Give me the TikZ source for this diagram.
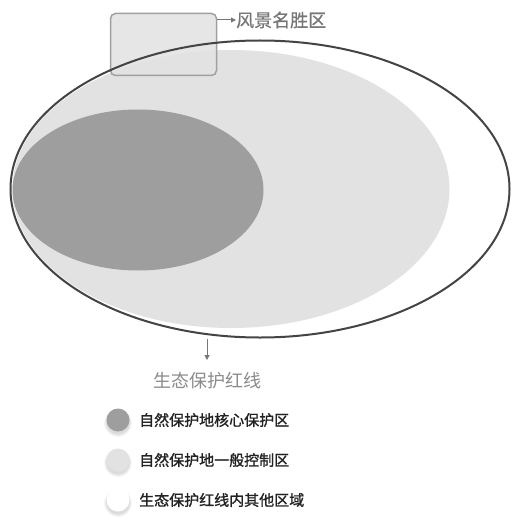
\documentclass[tikz,border=0pt]{standalone}
\usepackage{fontspec}
\setmainfont{Noto Sans CJK SC}
\newfontfamily\legfont[FakeBold=1.2]{Noto Sans CJK SC}
\newfontfamily\capfont[FakeBold=0.6]{Noto Sans CJK SC}
\usetikzlibrary{shapes.geometric,arrows.meta}
\definecolor{lightzone}{HTML}{E2E2E2}
\definecolor{darkzone}{HTML}{9E9E9E}
\definecolor{redline}{HTML}{444444}
\definecolor{rectline}{HTML}{A0A0A0}
\definecolor{labelgrey}{HTML}{777777}
\definecolor{legendtext}{HTML}{222222}
\tikzset{
  zone/.style={ellipse, inner sep=0pt, draw=none},
  ptr/.style={draw=labelgrey, line width=1pt, -{Triangle[length=5pt,width=5pt]}},
  legdot/.style={circle, inner sep=0pt, minimum size=23pt},
  dotshade/.style={circle, inner sep=0pt, fill=black, draw=none},
  legtext/.style={anchor=west, inner sep=0pt, font=\legfont\fontsize{15}{15}\selectfont, text=legendtext},
  biglabel/.style={inner sep=0pt, font=\fontsize{18}{18}\selectfont, text=labelgrey}
}
\newcommand{\softshadow}[1]{%
  \node[dotshade, minimum size=28pt, fill opacity=0.03] at ([yshift=-3pt]#1) {};
  \node[dotshade, minimum size=26pt, fill opacity=0.05] at ([yshift=-3pt]#1) {};
  \node[dotshade, minimum size=24pt, fill opacity=0.06] at ([yshift=-2.5pt]#1) {};
}
\begin{document}
\begin{tikzpicture}[x=1pt,y=-1pt]
\useasboundingbox (0,0) rectangle (511,532);
\fill[white] (0,0) rectangle (511,532);
% zones
\begin{scope}
\clip (260,189) ellipse [x radius=249pt, y radius=148pt];
\node[zone, fill=lightzone, minimum width=437pt, minimum height=278pt] (general) at (231,189) {};
\node[zone, fill=darkzone, minimum width=251pt, minimum height=161pt] (core) at (138,190) {};
\end{scope}
% scenic area box
\node[draw=rectline, line width=1.5pt, fill=lightzone, fill opacity=0.85, rounded corners=5pt,
      minimum width=106pt, minimum height=62pt, inner sep=0pt] (scenic) at (163.5,44.5) {};
% red line boundary
\node[zone, draw=redline, line width=2pt, minimum width=499pt, minimum height=297pt] (boundary) at (260,189) {};
% labels
\node[biglabel, anchor=west, font=\capfont\fontsize{18}{18}\selectfont] (scenictext) at (236,20) {风景名胜区};
\draw[ptr] (scenic.east |- scenictext.west) -- (scenictext.west);
\node[biglabel, text=labelgrey!85] (redtext) at (207,381) {生态保护红线};
\coordinate (redtop) at (207,360);
\draw[ptr] (boundary.south -| redtop) -- (redtop);
% legend
\coordinate (p1) at (118,420);
\coordinate (p2) at (118,460);
\coordinate (p3) at (118,500);
\softshadow{p1}\softshadow{p2}\softshadow{p3}
\node[legdot, fill=darkzone] (dot1) at (p1) {};
\node[legdot, fill=lightzone] (dot2) at (p2) {};
\node[legdot, fill=white] (dot3) at (p3) {};
\node[legtext] (leg1) at (139,420) {自然保护地核心保护区};
\node[legtext] (leg2) at (139,460) {自然保护地一般控制区};
\node[legtext] (leg3) at (139,500) {生态保护红线内其他区域};
\end{tikzpicture}
\end{document}
